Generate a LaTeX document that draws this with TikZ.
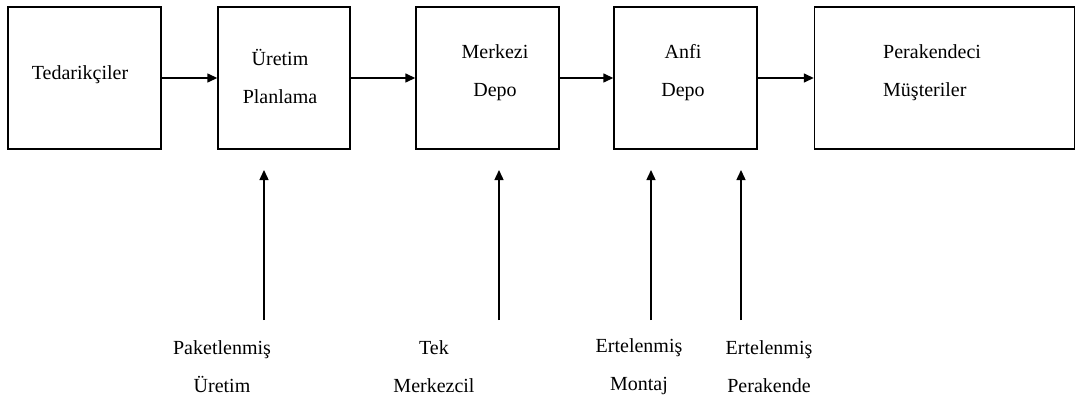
\documentclass[tikz,border=0pt]{standalone}
\usepackage{fontspec}
\setmainfont{Liberation Serif}
\usetikzlibrary{arrows.meta}
\begin{document}
\begin{tikzpicture}[x=1pt,y=-1pt,
  stage/.style={draw, line width=1.4pt, inner sep=0pt, minimum height=142pt},
  lbl/.style={font=\fontsize{20}{38}\selectfont, align=center, inner sep=0pt},
  flow/.style={line width=1.4pt, -{Triangle[length=10pt,width=9pt]}}]
\useasboundingbox (0,0) rectangle (1076,401);

% supply chain stages
\node[stage, minimum width=153pt] (sup) at (84.5,78) {};
\node[stage, minimum width=132pt] (prod) at (284,78) {};
\node[stage, minimum width=143pt] (cdep) at (487.5,78) {};
\node[stage, minimum width=143pt] (adep) at (685.5,78) {};
\node[stage, minimum width=260pt] (cust) at (944.5,78) {};

% stage names
\node[lbl] (supt) at (80,75) {Tedarikçiler};
\node[lbl] (prodt) at (280,76) {Üretim\\Planlama};
\node[lbl] (cdept) at (495,73) {Merkezi\\Depo};
\node[lbl] (adept) at (683,73) {Anfi\\Depo};
\node[lbl, align=left, anchor=west] (custt) at (883,73) {Perakendeci\\Müşteriler};

% main flow
\draw[flow] (sup.east) -- (prod.west);
\draw[flow] (prod.east) -- (cdep.west);
\draw[flow] (cdep.east) -- (adep.west);
\draw[flow] (adep.east) -- (cust.west);

% strategies
\node[lbl] (s1) at (222,367) {Paketlenmiş\\Üretim};
\node[lbl] (s2) at (434,367) {Tek\\Merkezcil};
\node[lbl] (s3) at (639,367) {Ertelenmiş\\Montaj};
\node[lbl] (s4) at (769,367) {Ertelenmiş\\Perakende};

\coordinate (b1) at (264,320); \coordinate (e1) at (264,170);
\coordinate (b2) at (499,320); \coordinate (e2) at (499,170);
\coordinate (b3) at (651,320); \coordinate (e3) at (651,170);
\coordinate (b4) at (741,320); \coordinate (e4) at (741,170);
\draw[flow] (b1) -- (e1);
\draw[flow] (b2) -- (e2);
\draw[flow] (b3) -- (e3);
\draw[flow] (b4) -- (e4);
\end{tikzpicture}
\end{document}
